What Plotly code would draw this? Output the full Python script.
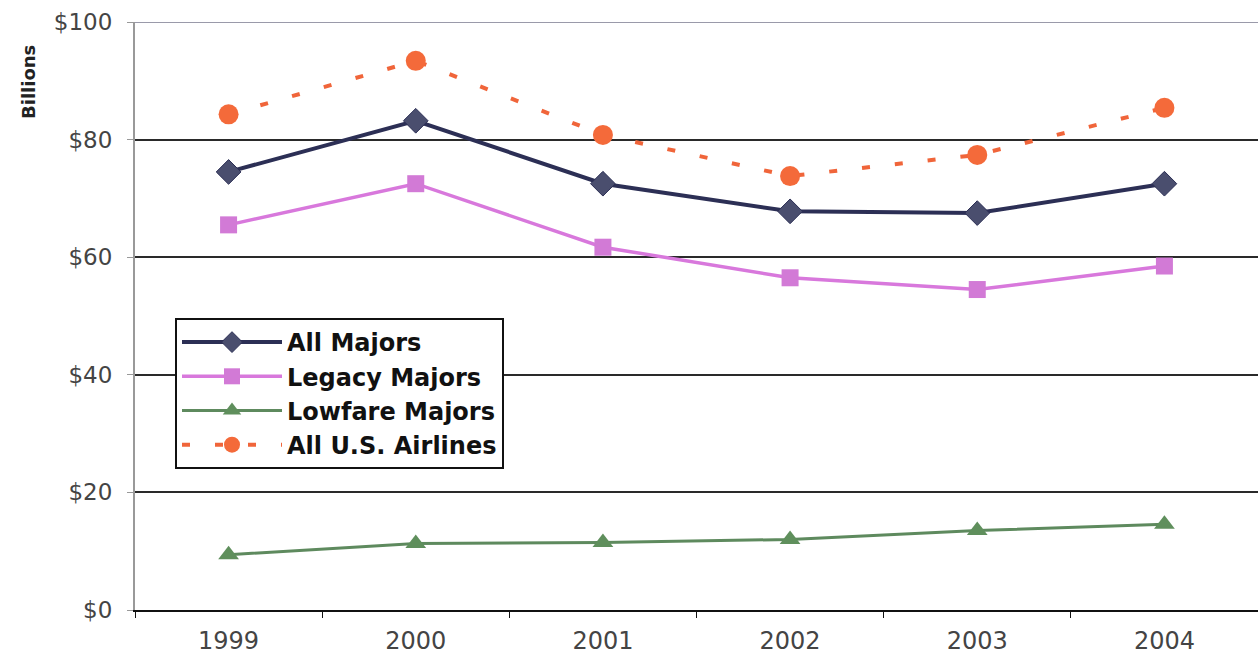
import plotly.graph_objects as go

years = ["1999", "2000", "2001", "2002", "2003", "2004"]
all_majors = [74.5, 83.2, 72.5, 67.8, 67.5, 72.5]
legacy_majors = [65.5, 72.5, 61.7, 56.5, 54.5, 58.5]
lowfare_majors = [9.4, 11.3, 11.5, 12.0, 13.5, 14.6]
all_us = [84.3, 93.4, 80.8, 73.8, 77.4, 85.4]
y_ticks = [0, 20, 40, 60, 80, 100]
y_labels = ["$0", "$20", "$40", "$60", "$80", "$100"]

FONT = "DejaVu Sans, Liberation Sans, Arial, sans-serif"

fig = go.Figure()
fig.add_trace(go.Scatter(x=years, y=all_majors, name="All Majors", mode="lines+markers",
                         line=dict(color="#2c2f55", width=4),
                         marker=dict(symbol="diamond", size=19, color="#4a4e6e",
                                     line=dict(color="#2c2f55", width=1))))
fig.add_trace(go.Scatter(x=years, y=legacy_majors, name="Legacy Majors", mode="lines+markers",
                         line=dict(color="#d878dc", width=3.5),
                         marker=dict(symbol="square", size=17, color="#d27ad6")))
fig.add_trace(go.Scatter(x=years, y=lowfare_majors, name="Lowfare Majors", mode="lines+markers",
                         line=dict(color="#5e8a5e", width=3),
                         marker=dict(symbol="triangle-up", size=18, color="#5f8f5c")))
fig.add_trace(go.Scatter(x=years, y=all_us, name="All U.S. Airlines", mode="lines+markers",
                         line=dict(color="#f0653a", width=4, dash="8px,25px"),
                         marker=dict(symbol="circle", size=20, color="#f46a3a")))

fig.update_layout(
    width=1258, height=666,
    margin=dict(l=135, r=0, t=22, b=56),
    plot_bgcolor="white", paper_bgcolor="white",
    font=dict(family=FONT, color="#333"),
    showlegend=True,
    legend=dict(x=(175 - 135) / 1123, y=(610 - 318) / 588, xanchor="left", yanchor="top",
                bgcolor="white", bordercolor="#111", borderwidth=2,
                font=dict(size=24, color="#111", family=FONT, weight="bold"),
                itemwidth=100, tracegroupgap=0),
    xaxis=dict(type="category", showgrid=False, showline=True, linecolor="#111", linewidth=2,
               ticks="outside", tickson="boundaries", ticklen=6, tickcolor="#111",
               ticklabelstandoff=8,
               tickfont=dict(size=24, color="#444"), range=[-0.5, 5.5]),
    yaxis=dict(range=[0, 100], tickmode="array", tickvals=y_ticks, ticktext=y_labels,
               showgrid=True, gridcolor="#2a2a2a", gridwidth=2,
               showline=True, linecolor="#999", linewidth=2,
               ticks="outside", ticklen=6, tickcolor="#999",
               ticklabelstandoff=10,
               tickfont=dict(size=23, color="#444"), zeroline=False),
    shapes=[dict(type="line", xref="paper", yref="y", x0=0, x1=1, y0=100, y1=100,
                 line=dict(color="#9a9aaa", width=2), layer="below")],
    annotations=[dict(text="<b>Billions</b>", textangle=-90,
                      x=(28 - 135) / 1123, y=(610 - 82) / 588,
                      xref="paper", yref="paper", showarrow=False,
                      xanchor="center", yanchor="middle",
                      font=dict(size=18, color="#222", family=FONT))],
)
fig.write_html("out.html")
